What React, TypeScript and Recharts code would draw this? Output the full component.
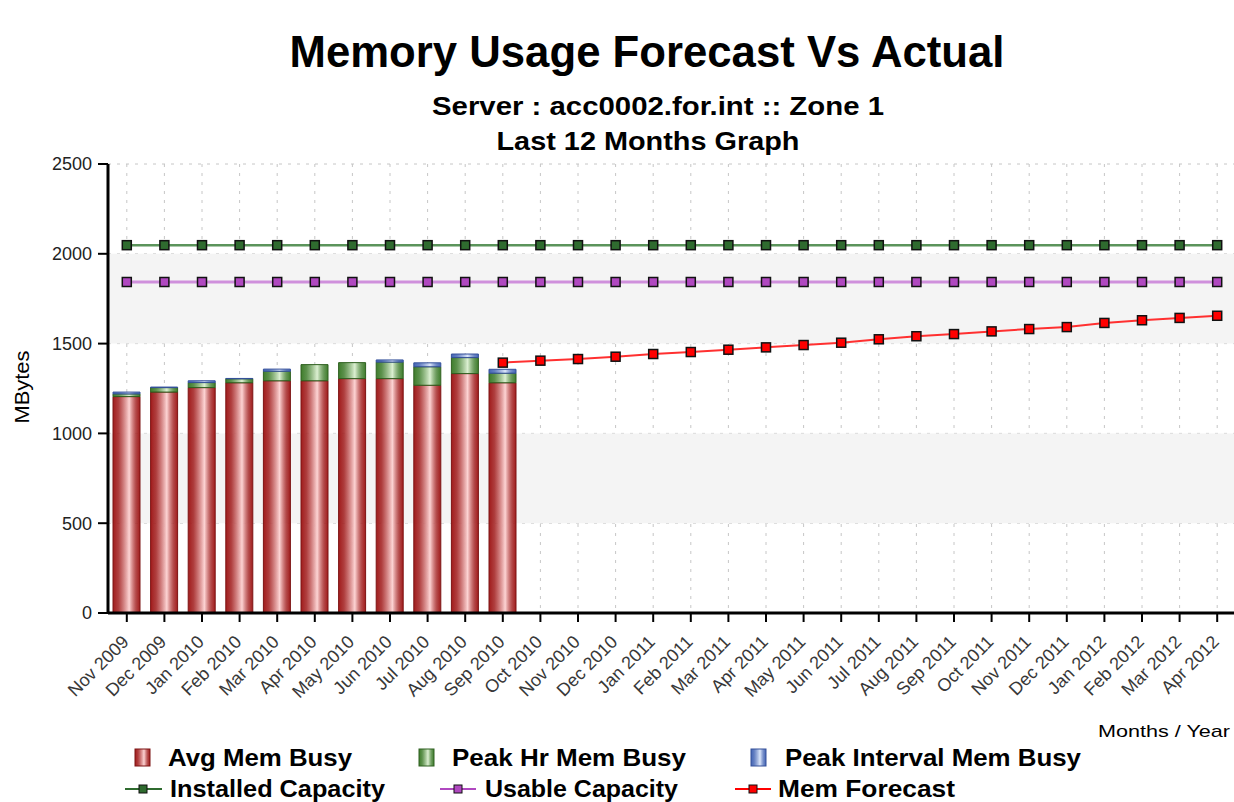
import { Bar, CartesianGrid, ComposedChart, Line, ReferenceArea, XAxis, YAxis } from "recharts";

const months = [
  "Nov 2009", "Dec 2009", "Jan 2010", "Feb 2010", "Mar 2010", "Apr 2010", "May 2010", "Jun 2010",
  "Jul 2010", "Aug 2010", "Sep 2010", "Oct 2010", "Nov 2010", "Dec 2010", "Jan 2011", "Feb 2011",
  "Mar 2011", "Apr 2011", "May 2011", "Jun 2011", "Jul 2011", "Aug 2011", "Sep 2011", "Oct 2011",
  "Nov 2011", "Dec 2011", "Jan 2012", "Feb 2012", "Mar 2012", "Apr 2012"
];

// stacked bar segments (MBytes), first 11 months only
const avgMemBusy = [1205, 1230, 1255, 1282, 1293, 1293, 1305, 1305, 1268, 1333, 1282];
const peakHrMemBusy = [15, 25, 28, 22, 53, 90, 89, 92, 103, 89, 53];
const peakIntervalMemBusy = [10, 3, 10, 2, 12, 0, 0, 12, 22, 20, 22];

const installedCapacity = 2048;
const usableCapacity = 1843;

// forecast starts at Sep 2010
const forecastStart = 10;
const memForecast = [
  1394, 1405, 1414, 1427, 1442, 1453, 1466, 1479, 1492, 1505,
  1524, 1541, 1553, 1568, 1581, 1592, 1615, 1630, 1643, 1655
];

const yTicks = [0, 500, 1000, 1500, 2000, 2500];

const rows = months.map((month, i) => ({
  month,
  avg: avgMemBusy[i] ?? null,
  peakHr: peakHrMemBusy[i] ?? null,
  peakInt: peakIntervalMemBusy[i] ?? null,
  installed: installedCapacity,
  usable: usableCapacity,
  forecast: i >= forecastStart ? memForecast[i - forecastStart] : null
}));

const font = '"Liberation Sans", Arial, sans-serif';

const squareDot = (fill: string) => (props: any) => {
  const { cx, cy, index, value } = props;
  if (cx == null || cy == null || value == null || Number.isNaN(cy)) return <g key={`d-${index}`} />;
  return (
    <rect key={`d-${index}`} x={cx - 4.5} y={cy - 4.5} width={9} height={9} fill={fill} stroke="#111" strokeWidth={1.5} />
  );
};

function MonthTick(props: any) {
  const { x, y, payload } = props;
  return (
    <g transform={`translate(${x + 3},${y + 19})`}>
      <text x={0} y={0} textAnchor="end" transform="rotate(-45)" fontSize={18} fill="#383838" fontFamily={font}>
        {payload.value}
      </text>
    </g>
  );
}

function Grad({ id, edge, mid }: { id: string; edge: string; mid: string }) {
  return (
    <linearGradient id={id} x1="0" y1="0" x2="1" y2="0">
      <stop offset="0" stopColor={edge} />
      <stop offset="0.2" stopColor={edge} stopOpacity={0.85} />
      <stop offset="0.6" stopColor={mid} />
      <stop offset="0.85" stopColor={edge} stopOpacity={0.8} />
      <stop offset="1" stopColor={edge} />
    </linearGradient>
  );
}

export default function App() {
  return (
    <div style={{ position: "absolute", left: 0, top: 0, width: 1234, height: 802, overflow: "hidden", background: "#fff" }}>
      <svg width={0} height={0} style={{ position: "absolute" }}>
        <defs>
          <Grad id="gRed" edge="#a11c1c" mid="#fdd4d4" />
          <Grad id="gGreen" edge="#3f7d2c" mid="#dcf0d2" />
          <Grad id="gBlue" edge="#4566b5" mid="#dce7fb" />
        </defs>
      </svg>
      <ComposedChart width={1236} height={802} data={rows} margin={{ top: 164, right: 0, bottom: 0, left: 0 }}>
        <ReferenceArea y1={1500} y2={2000} fill="#f4f4f4" fillOpacity={1} stroke="none" />
        <ReferenceArea y1={500} y2={1000} fill="#f4f4f4" fillOpacity={1} stroke="none" />
        <CartesianGrid stroke="#c6c6c6" strokeDasharray="3 6" />
        <XAxis
          dataKey="month"
          height={189}
          interval={0}
          tick={<MonthTick />}
          tickSize={9}
          axisLine={{ stroke: "#000", strokeWidth: 3 }}
          tickLine={{ stroke: "#000", strokeWidth: 2 }}
        />
        <YAxis
          width={108}
          domain={[0, 2500]}
          ticks={yTicks}
          interval={0}
          tickSize={10}
          tickMargin={6}
          axisLine={{ stroke: "#000", strokeWidth: 3 }}
          tickLine={{ stroke: "#000", strokeWidth: 2 }}
          tick={{ fontSize: 18, fill: "#222", fontFamily: font }}
        />
        <Bar dataKey="avg" stackId="a" barSize={27} fill="url(#gRed)" stroke="#7d1414" strokeWidth={1} isAnimationActive={false} />
        <Bar dataKey="peakHr" stackId="a" barSize={27} fill="url(#gGreen)" stroke="#2f6020" strokeWidth={1} isAnimationActive={false} />
        <Bar dataKey="peakInt" stackId="a" barSize={27} fill="url(#gBlue)" stroke="#34509a" strokeWidth={1} isAnimationActive={false} />
        <Line dataKey="installed" stroke="#5b945b" strokeWidth={2.5} dot={squareDot("#2f6b2f")} activeDot={false} isAnimationActive={false} />
        <Line dataKey="usable" stroke="#cf90dc" strokeWidth={3} dot={squareDot("#b048c0")} activeDot={false} isAnimationActive={false} />
        <Line dataKey="forecast" stroke="#ff3030" strokeWidth={2} dot={squareDot("#ff0000")} activeDot={false} connectNulls={false} isAnimationActive={false} />
      </ComposedChart>

      <svg width={1234} height={802} style={{ position: "absolute", left: 0, top: 0, pointerEvents: "none" }} fontFamily={font}>
        <text x={647} y={67} textAnchor="middle" fontSize={44} fontWeight="bold" fill="#000" textLength={715} lengthAdjust="spacingAndGlyphs">
          Memory Usage Forecast Vs Actual
        </text>
        <text x={658} y={115} textAnchor="middle" fontSize={26} fontWeight="bold" fill="#000" textLength={452} lengthAdjust="spacingAndGlyphs">
          Server : acc0002.for.int :: Zone 1
        </text>
        <text x={648} y={150} textAnchor="middle" fontSize={26} fontWeight="bold" fill="#000" textLength={303} lengthAdjust="spacingAndGlyphs">
          Last 12 Months Graph
        </text>
        <text transform="translate(29,387) rotate(-90)" textAnchor="middle" fontSize={20} fill="#000" textLength={73} lengthAdjust="spacingAndGlyphs">
          MBytes
        </text>
        <text x={1230} y={737} textAnchor="end" fontSize={17} fill="#000" textLength={132} lengthAdjust="spacingAndGlyphs">
          Months / Year
        </text>

        <rect x={135} y={749} width={15} height={17} fill="url(#gRed)" stroke="#7d1414" />
        <text x={168} y={766} fontSize={24} fontWeight="bold" textLength={184} lengthAdjust="spacingAndGlyphs">Avg Mem Busy</text>
        <rect x={419} y={749} width={15} height={17} fill="url(#gGreen)" stroke="#2f6020" />
        <text x={452} y={766} fontSize={24} fontWeight="bold" textLength={234} lengthAdjust="spacingAndGlyphs">Peak Hr Mem Busy</text>
        <rect x={751} y={749} width={15} height={17} fill="url(#gBlue)" stroke="#34509a" />
        <text x={785} y={766} fontSize={24} fontWeight="bold" textLength={296} lengthAdjust="spacingAndGlyphs">Peak Interval Mem Busy</text>

        <line x1={125} x2={162} y1={789} y2={789} stroke="#2f6b2f" strokeWidth={2} />
        <rect x={139} y={785} width={8} height={8} fill="#2f6b2f" stroke="#111" />
        <text x={170} y={797} fontSize={24} fontWeight="bold" textLength={215} lengthAdjust="spacingAndGlyphs">Installed Capacity</text>
        <line x1={440} x2={476} y1={789} y2={789} stroke="#b048c0" strokeWidth={2} />
        <rect x={454} y={785} width={8} height={8} fill="#b048c0" stroke="#111" />
        <text x={485} y={797} fontSize={24} fontWeight="bold" textLength={193} lengthAdjust="spacingAndGlyphs">Usable Capacity</text>
        <line x1={735} x2={771} y1={789} y2={789} stroke="#ff0000" strokeWidth={2} />
        <rect x={749} y={785} width={8} height={8} fill="#ff0000" stroke="#111" />
        <text x={778} y={797} fontSize={24} fontWeight="bold" textLength={177} lengthAdjust="spacingAndGlyphs">Mem Forecast</text>
      </svg>
    </div>
  );
}
